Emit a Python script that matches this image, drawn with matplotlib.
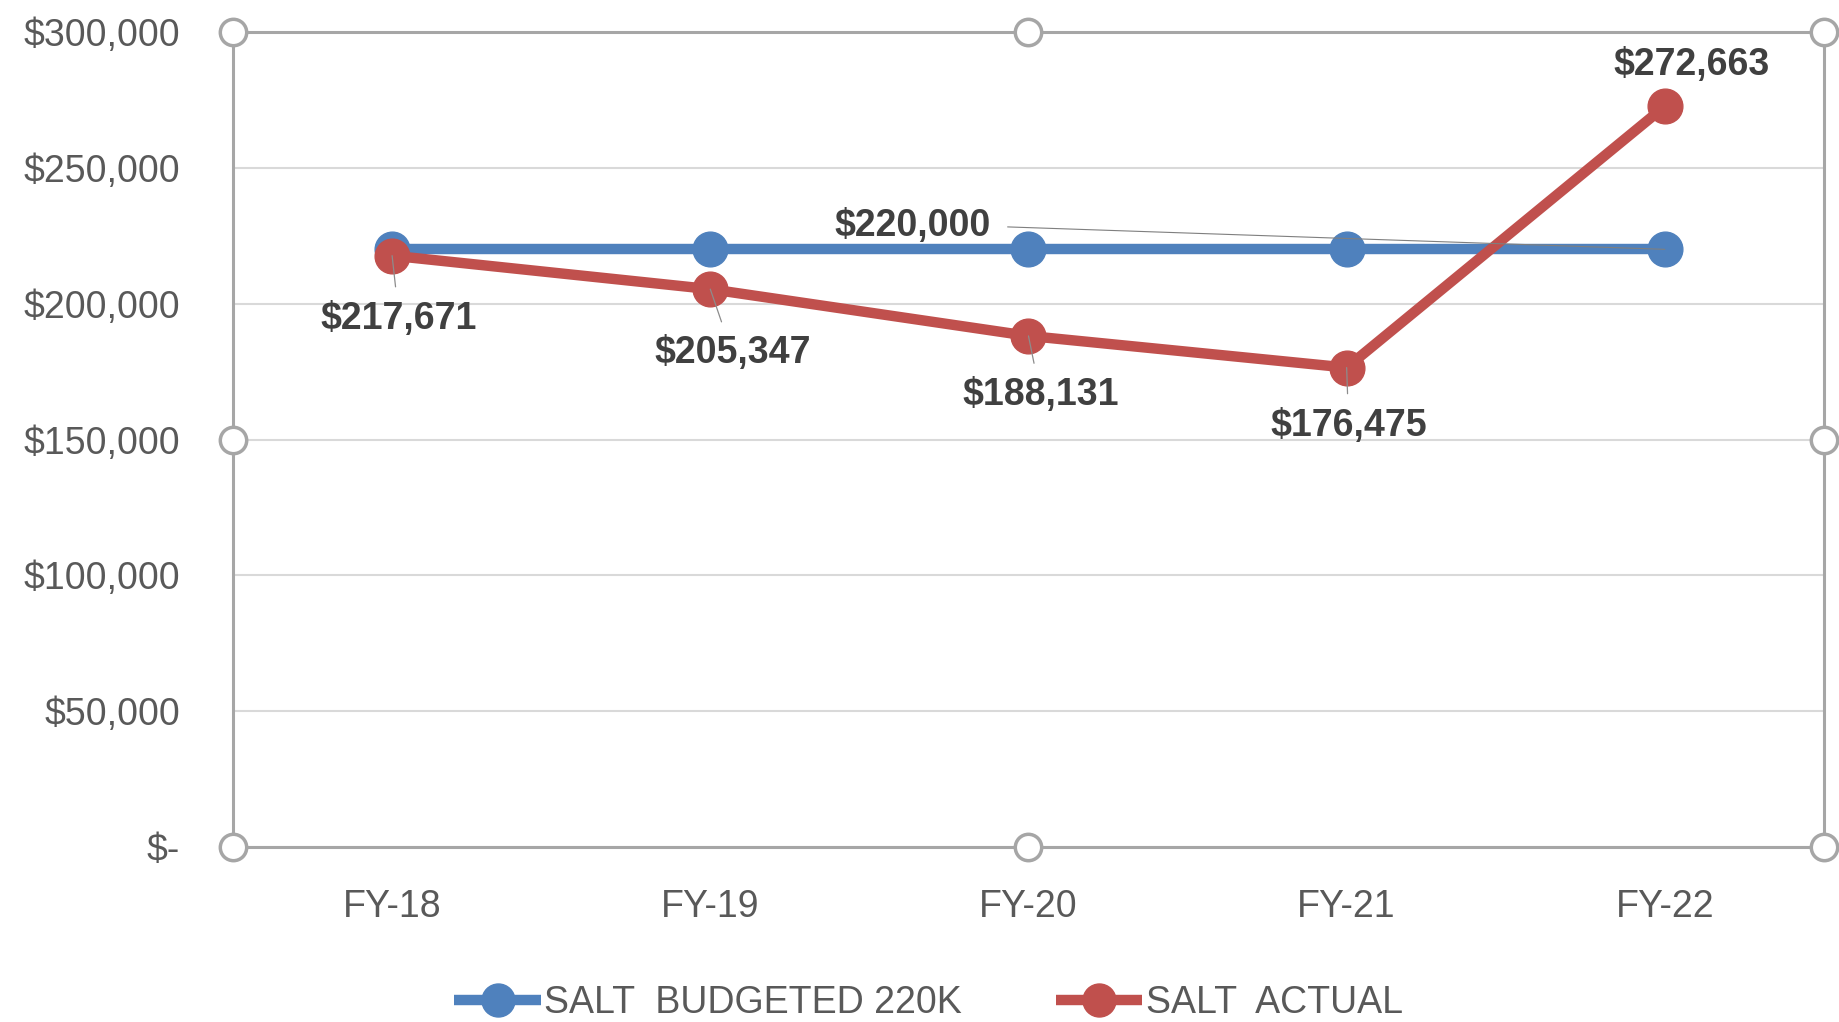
import matplotlib.pyplot as plt
from matplotlib.ticker import FuncFormatter

years = ['FY-18', 'FY-19', 'FY-20', 'FY-21', 'FY-22']
budgeted = [220000, 220000, 220000, 220000, 220000]
actual = [217671, 205347, 188131, 176475, 272663]
budget_label = 'SALT  BUDGETED 220K'
actual_label = 'SALT  ACTUAL'

blue = '#4F81BD'
red = '#C0504D'
grey_txt = '#595959'
label_txt = '#404040'
frame_col = '#A6A6A6'

plt.rcParams['font.family'] = ['Liberation Sans', 'DejaVu Sans']

fig = plt.figure(figsize=(18.39, 10.22), dpi=100)
ax = fig.add_axes([0.1267, 0.1712, 0.8651, 0.7975])

x = range(len(years))
ax.plot(x, budgeted, color=blue, lw=7.5, marker='o', ms=25, label=budget_label,
        solid_capstyle='butt', zorder=3)
ax.plot(x, actual, color=red, lw=7.5, marker='o', ms=25, label=actual_label,
        solid_capstyle='butt', zorder=4)

ax.set_xlim(-0.5, len(years) - 0.5)
ax.set_ylim(0, 300000)
ax.set_yticks(range(0, 300001, 50000))
ax.set_xticks(list(x))
ax.set_xticklabels(years)
ax.yaxis.set_major_formatter(FuncFormatter(lambda v, p: '$-' if v == 0 else f'${v:,.0f}'))
ax.tick_params(length=0, labelsize=27, labelcolor=grey_txt)
ax.tick_params(axis='y', pad=38)
ax.tick_params(axis='x', pad=30)
ax.grid(axis='y', color='#D9D9D9', lw=1.5)
ax.set_axisbelow(True)
for s in ax.spines.values():
    s.set_color(frame_col)
    s.set_linewidth(2.2)

# selection handles around the plot area
hx = [0, 0.5, 1, 0, 1, 0, 0.5, 1]
hy = [1, 1, 1, 0.5, 0.5, 0, 0, 0]
ax.plot(hx, hy, ls='none', marker='o', ms=19, mfc='white', mec=frame_col, mew=2.5,
        transform=ax.transAxes, clip_on=False, zorder=6)

# data labels for actual values
offsets = [(7, -63), (22, -64), (12, -59), (2, -58), (27, 41)]
for i, (v, off) in enumerate(zip(actual, offsets)):
    ax.annotate(f'${v:,}', xy=(i, v), xytext=off, textcoords='offset pixels',
                ha='center', va='center', fontsize=27, fontweight='bold', color=label_txt,
                arrowprops=dict(arrowstyle='-', color='#8C8C8C', lw=0.9, shrinkA=8, shrinkB=0)
                if off[1] < 0 else None, zorder=7)

# single label for the budget line, pulled away with a leader line
ax.annotate(f'${budgeted[-1]:,}', xy=(len(years) - 1, budgeted[-1]), xytext=(-752, 23),
            textcoords='offset pixels', ha='center', va='center', fontsize=27,
            fontweight='bold', color=label_txt,
            arrowprops=dict(arrowstyle='-', color='#7F7F7F', lw=0.8, shrinkA=10, shrinkB=0,
                            relpos=(1.0, 0.5)), zorder=7)

leg = fig.legend(loc='lower center', bbox_to_anchor=(0.505, -0.032), ncol=2, frameon=False,
                 fontsize=27, handlelength=2.3, columnspacing=2.5, handletextpad=0.1,
                 markerscale=0.95)
for t in leg.get_texts():
    t.set_color(grey_txt)

fig.savefig('out.png', dpi=100)
